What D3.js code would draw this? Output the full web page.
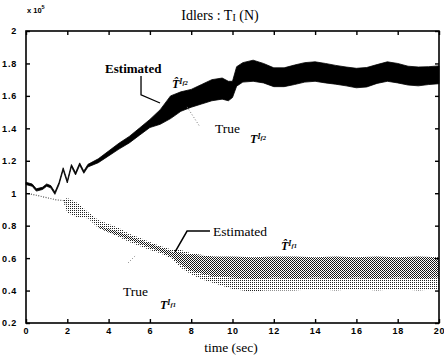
<!DOCTYPE html>
<html><head><meta charset="utf-8">
<script src="https://cdn.jsdelivr.net/npm/d3@7/dist/d3.min.js"></script>
<style>body{margin:0;background:#fff}</style>
</head><body>
<svg id="c" width="444" height="356"></svg>
<script>
// ---------- data (units of 10^5 N, time in sec) ----------
const xTicks = [0,2,4,6,8,10,12,14,16,18,20];
const yTicks = [0.2,0.4,0.6,0.8,1,1.2,1.4,1.6,1.8,2];
const yTickLabels = ["0.2","0.4","0.6","0.8","1","1.2","1.4","1.6","1.8","2"];

// Upper idler (f2) estimated: band mid value and half spread
const upT      = [0,0.3,0.5,0.8,1.0,1.2,1.4,1.6,1.8,2.0,2.2,2.4,2.6,2.8,3.0,3.5,4,4.5,5,5.5,6,6.5,7,7.5,8,8.5,9,9.5,9.8,10,10.2,10.5,11,11.5,12,12.5,13,13.5,14,14.5,15,15.5,16,16.5,17,17.5,18,18.5,19,19.5,20];
const upMid    = [1.06,1.05,1.02,1.03,1.05,1.04,1.0,1.06,1.15,1.07,1.17,1.12,1.18,1.13,1.17,1.2,1.245,1.29,1.33,1.38,1.43,1.47,1.53,1.565,1.585,1.61,1.635,1.645,1.63,1.64,1.72,1.745,1.755,1.74,1.715,1.715,1.73,1.745,1.75,1.74,1.73,1.72,1.71,1.715,1.735,1.75,1.74,1.725,1.72,1.725,1.73];
const upSpread = [0.007,0.007,0.007,0.007,0.007,0.007,0.007,0.007,0.007,0.007,0.007,0.007,0.007,0.007,0.008,0.012,0.015,0.018,0.02,0.022,0.025,0.045,0.07,0.06,0.055,0.06,0.065,0.065,0.06,0.05,0.06,0.06,0.065,0.06,0.058,0.058,0.06,0.06,0.06,0.06,0.058,0.058,0.06,0.06,0.058,0.06,0.06,0.058,0.058,0.055,0.055];

// Lower idler (f1) true: envelope
const lowT  = [0,0.5,1,1.5,1.8,2,2.5,3,3.5,4,4.5,5,5.5,6,6.5,7,7.5,8,8.5,9,9.5,10,10.5,11,11.5,12,13,14,15,16,17,18,19,20];
const lowHi = [1.0,0.99,0.975,0.962,0.96,0.97,0.94,0.885,0.835,0.81,0.785,0.75,0.725,0.70,0.675,0.655,0.65,0.63,0.62,0.61,0.60,0.60,0.595,0.59,0.59,0.59,0.595,0.60,0.60,0.60,0.60,0.60,0.605,0.60];
const lowLo = [1.0,0.985,0.97,0.955,0.95,0.88,0.85,0.845,0.785,0.76,0.73,0.70,0.675,0.65,0.63,0.60,0.54,0.50,0.47,0.45,0.43,0.41,0.40,0.39,0.40,0.40,0.40,0.41,0.40,0.41,0.40,0.41,0.40,0.41];

// Lower idler (f1) estimated: denser inner band
const estT  = [3.5,4,4.5,5,5.5,6,6.5,7,7.5,8,9,10,11,12,13,14,15,16,17,18,19,20];
const estHi = [0.80,0.78,0.76,0.735,0.71,0.69,0.665,0.64,0.63,0.62,0.61,0.61,0.605,0.61,0.61,0.605,0.61,0.605,0.61,0.605,0.61,0.605];
const estLo = [0.79,0.76,0.74,0.715,0.69,0.665,0.64,0.61,0.56,0.52,0.49,0.48,0.47,0.48,0.475,0.48,0.475,0.48,0.475,0.48,0.475,0.48];

// ---------- drawing ----------
const svg = d3.select("#c");
const x = d3.scaleLinear().domain([0,20]).range([26,439]);
const y = d3.scaleLinear().domain([0.2,2]).range([323,31]);

const defs = svg.append("defs");
const p1 = defs.append("pattern").attr("id","ditherLight").attr("width",2).attr("height",2).attr("patternUnits","userSpaceOnUse");
p1.append("rect").attr("width",1).attr("height",1).attr("fill","#222");
const p2 = defs.append("pattern").attr("id","ditherDark").attr("width",2).attr("height",2).attr("patternUnits","userSpaceOnUse");
p2.append("rect").attr("width",1).attr("height",1).attr("fill","#111");
p2.append("rect").attr("x",1).attr("y",1).attr("width",1).attr("height",1).attr("fill","#222");

// lower band (true), drawn as area after t>=1.8, dotted line before
const lowData = lowT.map((t,i)=>({t,hi:lowHi[i],lo:lowLo[i]}));
svg.append("path")
  .datum(lowData.filter(d=>d.t>=1.8))
  .attr("d", d3.area().x(d=>x(d.t)).y0(d=>y(d.lo)).y1(d=>y(d.hi)).curve(d3.curveLinear))
  .attr("fill","url(#ditherLight)");
svg.append("path")
  .datum(lowData.filter(d=>d.t<=2))
  .attr("d", d3.line().x(d=>x(d.t)).y(d=>y((d.hi+d.lo)/2)))
  .attr("fill","none").attr("stroke","#555").attr("stroke-width",1.2).attr("stroke-dasharray","1,1.5");

const estData = estT.map((t,i)=>({t,hi:estHi[i],lo:estLo[i]}));
svg.append("path")
  .datum(estData)
  .attr("d", d3.area().x(d=>x(d.t)).y0(d=>y(d.lo)).y1(d=>y(d.hi)))
  .attr("fill","url(#ditherDark)");

// upper band (estimated, black)
const upData = upT.map((t,i)=>({t,hi:upMid[i]+upSpread[i],lo:upMid[i]-upSpread[i]}));
svg.append("path")
  .datum(upData)
  .attr("d", d3.area().x(d=>x(d.t)).y0(d=>y(d.lo)).y1(d=>y(d.hi)))
  .attr("fill","#000").attr("stroke","#000").attr("stroke-width",0.8).attr("stroke-linejoin","round");

// ---------- axes box ----------
svg.append("rect").attr("x",x(0)).attr("y",y(2)).attr("width",x(20)-x(0)).attr("height",y(0.2)-y(2))
  .attr("fill","none").attr("stroke","#000").attr("stroke-width",1.6);

const tickFont = "'Liberation Sans', Arial, sans-serif";
const xb = svg.append("g").attr("transform",`translate(0,${y(0.2)})`)
  .call(d3.axisBottom(x).tickValues(xTicks).tickSizeInner(-4).tickSizeOuter(0).tickPadding(5).tickFormat(d3.format("d")));
const xt = svg.append("g").attr("transform",`translate(0,${y(2)})`)
  .call(d3.axisTop(x).tickValues(xTicks).tickSizeInner(-4).tickSizeOuter(0).tickFormat(""));
const yl = svg.append("g").attr("transform",`translate(${x(0)},0)`)
  .call(d3.axisLeft(y).tickValues(yTicks).tickSizeInner(-4).tickSizeOuter(0).tickPadding(8).tickFormat((d,i)=>yTickLabels[i]));
const yr = svg.append("g").attr("transform",`translate(${x(20)},0)`)
  .call(d3.axisRight(y).tickValues(yTicks).tickSizeInner(-4).tickSizeOuter(0).tickFormat(""));
[xb,xt,yl,yr].forEach(a=>{
  a.select(".domain").remove();
  a.selectAll(".tick line").attr("stroke","#000").attr("stroke-width",1.4);
  a.selectAll("text").attr("font-family",tickFont).attr("font-weight","bold").attr("font-size",9).attr("fill","#000").attr("letter-spacing","0.8px");
});
xb.selectAll("text").attr("dy","0.71em");
yl.selectAll("text").attr("dx","-1");

// ---------- titles ----------
const serif = "'Liberation Serif', 'Times New Roman', serif";
const title = svg.append("text").attr("x",220).attr("y",20).attr("text-anchor","middle")
  .attr("font-family",serif).attr("font-size",14).attr("fill","#000");
title.append("tspan").text("Idlers : T");
title.append("tspan").attr("font-size",10).attr("dy",1).text("I");
title.append("tspan").attr("dy",-1).text(" (N)");

const mult = svg.append("text").attr("x",27).attr("y",13).attr("font-family",tickFont).attr("font-weight","bold").attr("font-size",7.5).attr("fill","#000");
mult.append("tspan").text("x 10");
mult.append("tspan").attr("dy",-4).attr("font-size",5.5).text("5");

svg.append("text").attr("x",231).attr("y",352).attr("text-anchor","middle")
  .attr("font-family",serif).attr("font-size",13.5).attr("fill","#000").text("time (sec)");

// ---------- annotations (data coordinates) ----------
function label(t,v,txt,opts={}){
  return svg.append("text").attr("x",x(t)).attr("y",y(v)).attr("font-family",opts.family||serif)
    .attr("font-size",opts.size||12).attr("font-weight",opts.weight||"normal").attr("fill","#000").text(txt);
}
function sym(t,v,hat,sub){
  const tx = svg.append("text").attr("x",x(t)).attr("y",y(v)).attr("font-family",serif)
    .attr("font-style","italic").attr("font-weight","bold").attr("font-size",12).attr("fill","#000");
  tx.append("tspan").text(hat ? "T\u0302" : "T");
  tx.append("tspan").attr("dy",-4).attr("font-size",8).text("I");
  tx.append("tspan").attr("dy",1.5).attr("font-size",6.5).text(sub);
}
const lineGen = d3.line().x(d=>x(d[0])).y(d=>y(d[1]));

label(3.83,1.741,"Estimated",{weight:"bold",size:13});
svg.append("path").attr("d",lineGen([[5.57,1.723],[5.57,1.606],[6.49,1.556]])).attr("fill","none").attr("stroke","#000").attr("stroke-width",1.3);
sym(7.07,1.649,true,"f2");
label(9.15,1.371,"True",{size:13.5});
sym(10.85,1.31,false,"f2");
svg.append("path").attr("d",lineGen([[7.8,1.532],[8.43,1.408]])).attr("fill","none").attr("stroke","#777").attr("stroke-width",1).attr("stroke-dasharray","1,2");

label(9.06,0.736,"Estimated",{size:13.5});
svg.append("path").attr("d",lineGen([[8.91,0.767],[7.8,0.767],[7.22,0.638]])).attr("fill","none").attr("stroke","#000").attr("stroke-width",1.5);
sym(12.35,0.65,true,"f1");
label(4.70,0.366,"True",{size:13.5});
sym(6.49,0.286,false,"f1");
svg.append("path").attr("d",lineGen([[4.94,0.57],[5.28,0.613]])).attr("fill","none").attr("stroke","#777").attr("stroke-width",1).attr("stroke-dasharray","1,2");
</script>
</body></html>
